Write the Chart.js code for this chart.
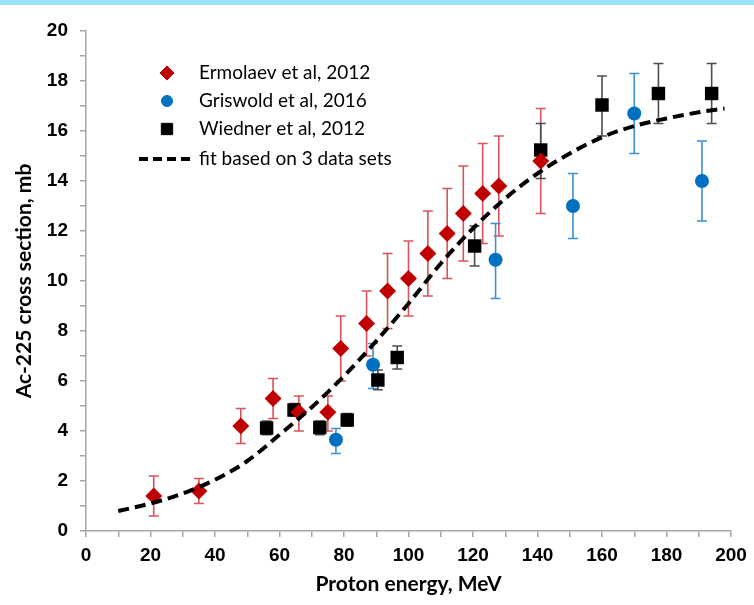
<!DOCTYPE html>
<html>
<head>
<meta charset="utf-8">
<script src="https://cdn.jsdelivr.net/npm/chart.js@4"></script>
<style>
  html, body { margin: 0; padding: 0; background: #fff; }
  canvas { display: block; }
</style>
</head>
<body>
<canvas id="chart_canvas" width="754" height="605"></canvas>
<script>
// ----- Data (x = proton energy MeV, y = cross section mb)
var ermolaev_x    = [21, 35, 48, 58, 66, 75, 79, 87, 93.5, 100, 106, 112, 117, 123, 128, 141];
var ermolaev_y    = [1.4, 1.6, 4.2, 5.3, 4.75, 4.75, 7.3, 8.3, 9.6, 10.1, 11.1, 11.9, 12.7, 13.5, 13.8, 14.8];
var ermolaev_low  = [0.6, 1.1, 3.5, 4.5, 4.0, 4.0, 6.0, 7.0, 8.1, 8.6, 9.4, 10.1, 10.8, 11.5, 11.8, 12.7];
var ermolaev_high = [2.2, 2.1, 4.9, 6.1, 5.4, 5.4, 8.6, 9.6, 11.1, 11.6, 12.8, 13.7, 14.6, 15.5, 15.8, 16.9];

var griswold_x    = [77.5, 89, 127, 151, 170, 191];
var griswold_y    = [3.65, 6.65, 10.85, 13.0, 16.7, 14.0];
var griswold_low  = [3.1, 5.7, 9.3, 11.7, 15.1, 12.4];
var griswold_high = [4.1, 7.5, 12.3, 14.3, 18.3, 15.6];

var wiedner_x    = [56, 64.5, 72.5, 81, 90.5, 96.5, 120.5, 141, 160, 177.5, 194];
var wiedner_y    = [4.12, 4.84, 4.14, 4.44, 6.04, 6.94, 11.4, 15.24, 17.04, 17.5, 17.5];
var wiedner_low  = [3.85, 4.6, 3.85, 4.2, 5.65, 6.48, 10.6, 14.1, 15.8, 16.3, 16.3];
var wiedner_high = [4.4, 5.1, 4.4, 4.7, 6.44, 7.4, 12.2, 16.3, 18.2, 18.7, 18.7];

var fit_x = [10, 20, 30, 40, 50, 60, 70, 80, 90, 100, 110, 120, 130, 140, 150, 160, 170, 180, 190, 198];
var fit_y = [0.8, 1.1, 1.5, 2.05, 2.8, 3.85, 4.95, 6.2, 7.6, 9.1, 10.7, 12.1, 13.3, 14.3, 15.1, 15.75, 16.2, 16.5, 16.75, 16.9];

var legend_labels = ['Ermolaev et al, 2012', 'Griswold et al, 2016', 'Wiedner et al, 2012', 'fit based on 3 data sets'];

function to_points(xs, ys) {
    return xs.map(function (x, i) { return { x: x, y: ys[i] }; });
}

var axis_grey = '#a6a6a6';
var tick_font = { family: 'Liberation Sans', weight: 'bold', size: 19 };
var title_font = { family: 'Lato', weight: 'bold', size: 21 };

// Error bars, drawn before the markers so the markers sit on top
var error_bars_plugin = {
    id: 'error_bars',
    beforeDatasetsDraw: function (chart) {
        var ctx = chart.ctx;
        var xs = chart.scales.x, ys = chart.scales.y;
        chart.data.datasets.forEach(function (ds) {
            if (!ds.err_low) return;
            ctx.save();
            ctx.strokeStyle = ds.err_color;
            ctx.lineWidth = 1.6;
            ds.data.forEach(function (p, i) {
                var px = xs.getPixelForValue(p.x);
                var top = ys.getPixelForValue(ds.err_high[i]);
                var bot = ys.getPixelForValue(ds.err_low[i]);
                ctx.beginPath();
                ctx.moveTo(px, top); ctx.lineTo(px, bot);
                ctx.moveTo(px - 5, top); ctx.lineTo(px + 5, top);
                ctx.moveTo(px - 5, bot); ctx.lineTo(px + 5, bot);
                ctx.stroke();
            });
            ctx.restore();
        });
    }
};

// Legend inside the plot area, top left, plus the thin blue band at the top of the page
var legend_plugin = {
    id: 'inner_legend',
    beforeDraw: function (chart) {
        var ctx = chart.ctx;
        ctx.save();
        ctx.fillStyle = '#ffffff';
        ctx.fillRect(0, 0, chart.width, chart.height);
        ctx.fillStyle = '#9de4fd';
        ctx.fillRect(0, 0, chart.width, 5);
        ctx.restore();
    },
    afterDraw: function (chart) {
        var ctx = chart.ctx;
        var rows = [73, 101, 129, 159];
        var sets = chart.data.datasets;
        ctx.save();
        ctx.font = '19px Lato';
        ctx.textBaseline = 'middle';
        ctx.fillStyle = '#000';
        // marker rows
        [1, 2, 3].forEach(function (k, i) {
            var ds = sets[k];
            ctx.fillStyle = ds.backgroundColor;
            ctx.strokeStyle = ds.backgroundColor;
            ctx.lineWidth = 1;
            Chart.helpers.drawPoint(ctx, { pointStyle: ds.pointStyle, radius: ds.pointRadius - 1.5, borderWidth: 1, rotation: 0 }, 167, rows[i]);
            ctx.fillStyle = '#000';
            ctx.fillText(legend_labels[i], 199, rows[i]);
        });
        // dashed fit row
        ctx.beginPath();
        ctx.setLineDash([9, 5]);
        ctx.lineWidth = 4;
        ctx.strokeStyle = '#000';
        ctx.moveTo(139, rows[3]); ctx.lineTo(193, rows[3]);
        ctx.stroke();
        ctx.setLineDash([]);
        ctx.fillText(legend_labels[3], 199, rows[3]);
        ctx.restore();
    }
};

var context = document.getElementById('chart_canvas').getContext('2d');

var scatter_chart = new Chart(context, {
    type: 'scatter',
    data: {
        datasets: [{
            label: legend_labels[3],
            data: to_points(fit_x, fit_y),
            showLine: true,
            borderColor: '#000000',
            borderWidth: 4,
            borderDash: [11, 6],
            cubicInterpolationMode: 'monotone',
            pointRadius: 0,
            order: 0
        }, {
            label: legend_labels[0],
            data: to_points(ermolaev_x, ermolaev_y),
            pointStyle: 'rectRot',
            pointRadius: 8.5,
            backgroundColor: '#c00000',
            borderColor: '#c00000',
            borderWidth: 0,
            err_low: ermolaev_low,
            err_high: ermolaev_high,
            err_color: '#d9535a',
            order: 1
        }, {
            label: legend_labels[1],
            data: to_points(griswold_x, griswold_y),
            pointStyle: 'circle',
            pointRadius: 7,
            backgroundColor: '#0070c0',
            borderColor: '#0070c0',
            borderWidth: 0,
            err_low: griswold_low,
            err_high: griswold_high,
            err_color: '#3d8fd3',
            order: 2
        }, {
            label: legend_labels[2],
            data: to_points(wiedner_x, wiedner_y),
            pointStyle: 'rect',
            pointRadius: 9.5,
            backgroundColor: '#000000',
            borderColor: '#000000',
            borderWidth: 0,
            err_low: wiedner_low,
            err_high: wiedner_high,
            err_color: '#4d4d4d',
            order: 3
        }]
    },
    options: {
        responsive: false,
        animation: false,
        layout: { padding: { left: 0, right: 23, top: 31, bottom: 0 } },
        plugins: {
            legend: { display: false },
            tooltip: { enabled: false }
        },
        scales: {
            x: {
                type: 'linear',
                min: 0,
                max: 200,
                afterFit: function (scale) { scale.height = 74; },
                ticks: {
                    stepSize: 10,
                    autoSkip: false,
                    maxRotation: 0,
                    padding: 7,
                    color: '#000',
                    font: tick_font,
                    callback: function (v) { return v % 20 === 0 ? v : ''; }
                },
                grid: { drawOnChartArea: false, color: axis_grey, tickLength: 6, lineWidth: 1.5 },
                border: { color: axis_grey, width: 1.5 },
                title: { display: true, text: 'Proton energy, MeV', color: '#000', font: title_font, padding: { top: 4, bottom: 8 } }
            },
            y: {
                min: 0,
                max: 20,
                afterFit: function (scale) { scale.width = 86; },
                ticks: {
                    stepSize: 1,
                    autoSkip: false,
                    padding: 12,
                    color: '#000',
                    font: tick_font,
                    callback: function (v) { return v % 2 === 0 ? v : ''; }
                },
                grid: { drawOnChartArea: false, color: axis_grey, tickLength: 6, lineWidth: 1.5 },
                border: { color: axis_grey, width: 1.5 },
                title: { display: true, text: 'Ac-225 cross section, mb', color: '#000', font: title_font, padding: { top: 12, bottom: 0 } }
            }
        }
    },
    plugins: [error_bars_plugin, legend_plugin]
});
</script>
</body>
</html>
